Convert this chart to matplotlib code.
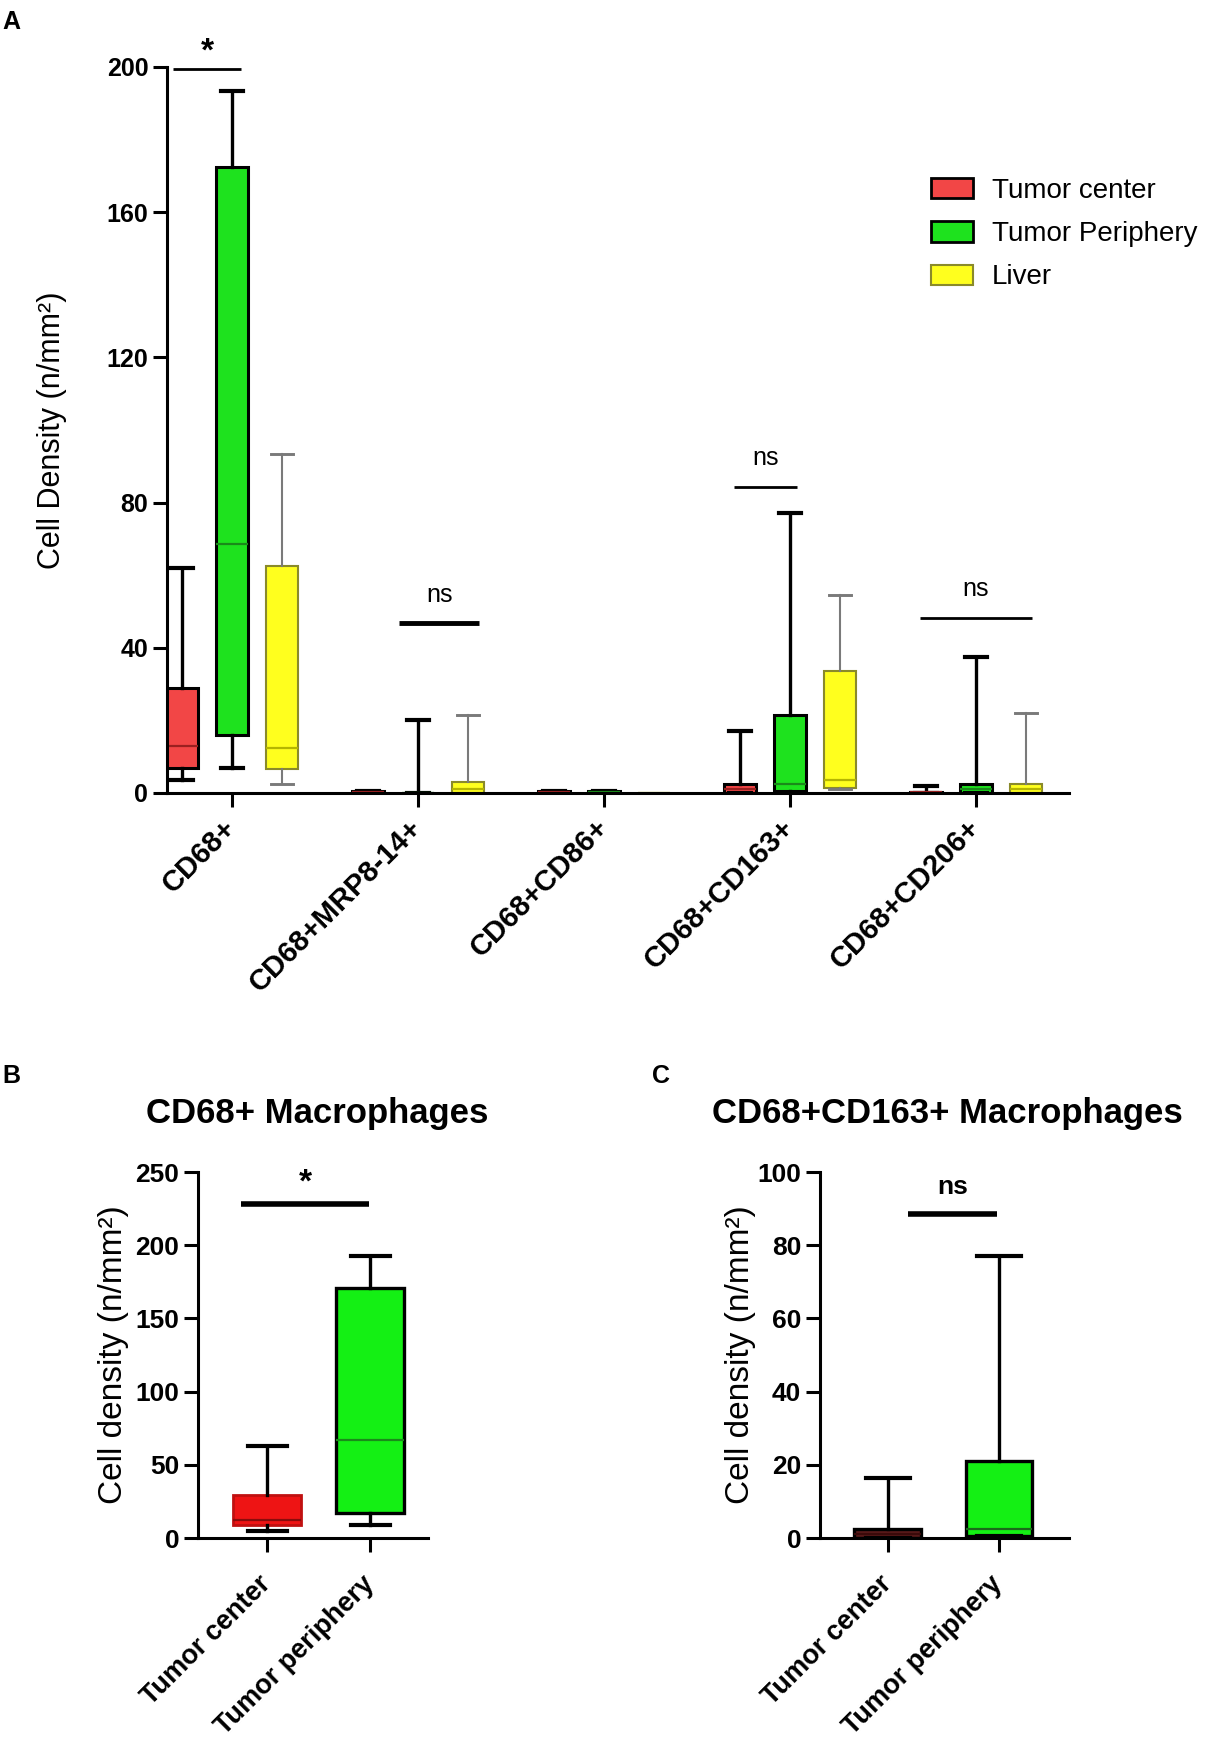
import matplotlib
matplotlib.use("Agg")
import matplotlib.pyplot as plt
from matplotlib.patches import Patch

plt.rcParams['font.family'] = ['Liberation Sans', 'DejaVu Sans']

# ---------------- Data ----------------
groups = ["CD68+", "CD68+MRP8-14+", "CD68+CD86+", "CD68+CD163+", "CD68+CD206+"]
series_names = ["Tumor center", "Tumor Periphery", "Liver"]

# box statistics per group: lower whisker, Q1, median, Q3, upper whisker
center_lo  = [3.5, 0.0, 0.0, 0.0, 0.0]
center_q1  = [7.0, 0.0, 0.0, 0.0, 0.0]
center_med = [13.0, 0.2, 0.2, 1.0, 0.2]
center_q3  = [29.0, 0.5, 0.5, 2.5, 0.4]
center_hi  = [62.0, 0.5, 0.5, 17.0, 1.8]

periph_lo  = [7.0, 0.0, 0.0, 0.0, 0.0]
periph_q1  = [16.0, 0.0, 0.0, 0.5, 0.0]
periph_med = [68.5, 0.0, 0.2, 2.5, 1.0]
periph_q3  = [172.5, 0.0, 0.5, 21.5, 2.5]
periph_hi  = [193.5, 20.0, 0.5, 77.0, 37.5]

liver_lo  = [2.5, 0.0, 0.0, 1.0, 0.0]
liver_q1  = [6.5, 0.0, 0.0, 1.5, 0.0]
liver_med = [12.5, 1.0, 0.0, 3.5, 1.0]
liver_q3  = [62.5, 3.0, 0.0, 33.5, 2.5]
liver_hi  = [93.5, 21.5, 0.0, 54.5, 22.0]

yticks_a = [0, 40, 80, 120, 160, 200]

# significance annotations in panel A
sig_a_groups = [0, 1, 3, 4]
sig_a_x0 = [-0.32, -0.10, -0.30, -0.30]
sig_a_x1 = [0.05, 0.33, 0.04, 0.30]
sig_a_y = [199.5, 46.8, 84.4, 48.3]
sig_a_text = ["*", "ns", "ns", "ns"]

# Panel B: CD68+ macrophages
b_labels = ["Tumor center", "Tumor periphery"]
b_lo  = [4.5, 8.6]
b_q1  = [8.6, 17.0]
b_med = [12.0, 67.0]
b_q3  = [29.3, 171.0]
b_hi  = [62.8, 192.5]
yticks_b = [0, 50, 100, 150, 200, 250]

# Panel C: CD68+CD163+ macrophages
c_labels = ["Tumor center", "Tumor periphery"]
c_lo  = [0.0, 0.5]
c_q1  = [0.0, 0.5]
c_med = [1.0, 2.5]
c_q3  = [2.5, 21.0]
c_hi  = [16.5, 77.0]
yticks_c = [0, 20, 40, 60, 80, 100]

# ---------------- Styling ----------------
W, H = 1205, 1744
fig = plt.figure(figsize=(W / 100, H / 100), dpi=100)

def fx(px):
    return px / W

def fy(py):
    return 1 - py / H

def stats(lo, q1, med, q3, hi):
    return [dict(whislo=a, q1=b, med=c, q3=d, whishi=e, fliers=[])
            for a, b, c, d, e in zip(lo, q1, med, q3, hi)]

def style_axes(ax, ysize, xpad=12):
    for s in ["top", "right"]:
        ax.spines[s].set_visible(False)
    for s in ["left", "bottom"]:
        ax.spines[s].set_linewidth(2.2)
    ax.tick_params(axis="both", direction="out", width=2.2, length=10)
    ax.tick_params(axis="y", labelsize=ysize)
    ax.tick_params(axis="x", pad=xpad)
    for lab in ax.get_yticklabels():
        lab.set_fontweight("bold")

def set_xlabels(ax, labels, size):
    ax.set_xticklabels(labels, rotation=45, ha="right", va="center",
                       rotation_mode="anchor", fontsize=size, fontweight="bold")

def draw_boxes(ax, st, pos, width, face, edge, med_col, whisk_col, lw, wlw, capw):
    ax.bxp(st, positions=pos, widths=width, patch_artist=True, showfliers=False,
           capwidths=capw,
           boxprops=dict(facecolor=face, edgecolor=edge, linewidth=lw),
           medianprops=dict(color=med_col, linewidth=1.6),
           whiskerprops=dict(color=whisk_col, linewidth=wlw),
           capprops=dict(color=whisk_col, linewidth=wlw + 0.6),
           manage_ticks=False)

# ---------------- Panel A ----------------
axA = fig.add_axes([fx(167), fy(793), fx(1069) - fx(167), fy(67) - fy(793)])
xs = list(range(len(groups)))
off = 0.27
bw = 0.17
red_a, green_a, yellow_a = "#F24646", "#1EE21E", "#FFFF1E"

draw_boxes(axA, stats(center_lo, center_q1, center_med, center_q3, center_hi),
           [x - off for x in xs], bw, red_a, "black", "#9a2020", "black", 2.2, 2.4, 0.12)
draw_boxes(axA, stats(periph_lo, periph_q1, periph_med, periph_q3, periph_hi),
           xs, bw, green_a, "black", "#1a8a1a", "black", 2.2, 2.4, 0.12)
draw_boxes(axA, stats(liver_lo, liver_q1, liver_med, liver_q3, liver_hi),
           [x + off for x in xs], bw, yellow_a, "#8a8a2a", "#b5b500", "#7a7a7a", 1.5, 1.5, 0.12)

axA.set_xlim(-0.35, 4.5)
axA.set_ylim(0, 200)
axA.set_yticks(yticks_a)
axA.set_xticks(xs)
style_axes(axA, 18)
set_xlabels(axA, groups, 21)
axA.set_ylabel("Cell Density (n/mm²)", fontsize=22)
axA.yaxis.set_label_coords(-0.111, 0.5)

for g, a0, a1, yv, t in zip(sig_a_groups, sig_a_x0, sig_a_x1, sig_a_y, sig_a_text):
    lw = 3.5 if g == 1 else 2.0
    axA.plot([g + a0, g + a1], [yv, yv], color="black", lw=lw, clip_on=False,
             solid_capstyle="butt")
    if t == "*":
        axA.text(g + (a0 + a1) / 2, yv + 0.3, t, ha="center", va="bottom",
                 fontsize=24, fontweight="bold", clip_on=False)
    else:
        axA.text(g + (a0 + a1) / 2, yv + 4.5, t, ha="center", va="bottom",
                 fontsize=18, clip_on=False)

handles = [Patch(facecolor=red_a, edgecolor="black", linewidth=2),
           Patch(facecolor=green_a, edgecolor="black", linewidth=2),
           Patch(facecolor=yellow_a, edgecolor="#8a8a2a", linewidth=1.5)]
fig.legend(handles, series_names, loc="upper left",
           bbox_to_anchor=(fx(931), fy(178)), frameon=False, fontsize=20,
           handlelength=1.5, handleheight=0.75, handletextpad=0.68,
           labelspacing=0.62, borderpad=0, borderaxespad=0)

# ---------------- Panel B ----------------
axB = fig.add_axes([fx(198), fy(1538), fx(428) - fx(198), fy(1172) - fy(1538)])
draw_boxes(axB, stats(b_lo[:1], b_q1[:1], b_med[:1], b_q3[:1], b_hi[:1]),
           [0], 0.66, "#EE1414", "#c01010", "#8a0c0c", "black", 2.0, 2.4, 0.38)
draw_boxes(axB, stats(b_lo[1:], b_q1[1:], b_med[1:], b_q3[1:], b_hi[1:]),
           [1], 0.66, "#14F014", "black", "#1a8a1a", "black", 2.4, 2.4, 0.38)
axB.set_xlim(-0.67, 1.56)
axB.set_ylim(0, 250)
axB.set_yticks(yticks_b)
axB.set_xticks([0, 1])
style_axes(axB, 19, xpad=20)
set_xlabels(axB, b_labels, 19.5)
axB.set_ylabel("Cell density (n/mm²)", fontsize=24)
axB.yaxis.set_label_coords(-0.30, 0.5)
axB.plot([-0.25, 0.99], [228, 228], color="black", lw=4, clip_on=False,
         solid_capstyle="butt")
axB.text(0.37, 232, "*", ha="center", va="bottom", fontsize=24, fontweight="bold")
fig.text(fx(317), fy(1113), "CD68+ Macrophages", ha="center", va="center",
         fontsize=25, fontweight="bold")

# ---------------- Panel C ----------------
axC = fig.add_axes([fx(820), fy(1538), fx(1069) - fx(820), fy(1172) - fy(1538)])
draw_boxes(axC, stats(c_lo[:1], c_q1[:1], c_med[:1], c_q3[:1], c_hi[:1]),
           [0], 0.6, "#5a1a1a", "black", "#3a0a0a", "black", 2.4, 2.4, 0.4)
draw_boxes(axC, stats(c_lo[1:], c_q1[1:], c_med[1:], c_q3[1:], c_hi[1:]),
           [1], 0.6, "#14F014", "black", "#1a6a1a", "black", 2.4, 2.4, 0.4)
axC.set_xlim(-0.61, 1.63)
axC.set_ylim(0, 100)
axC.set_yticks(yticks_c)
axC.set_xticks([0, 1])
style_axes(axC, 19, xpad=20)
set_xlabels(axC, c_labels, 19.5)
axC.set_ylabel("Cell density (n/mm²)", fontsize=24)
axC.yaxis.set_label_coords(-0.257, 0.5)
axC.plot([0.18, 0.98], [88.5, 88.5], color="black", lw=4, clip_on=False,
         solid_capstyle="butt")
axC.text(0.58, 92.5, "ns", ha="center", va="bottom", fontsize=19, fontweight="bold")
fig.text(fx(947), fy(1113), "CD68+CD163+ Macrophages", ha="center", va="center",
         fontsize=25, fontweight="bold")

# ---------------- Panel letters ----------------
fig.text(fx(2), fy(22), "A", fontsize=18, fontweight="bold", va="center")
fig.text(fx(2), fy(1076), "B", fontsize=18, fontweight="bold", va="center")
fig.text(fx(652), fy(1076), "C", fontsize=18, fontweight="bold", va="center")

fig.savefig("out.png", dpi=100)
